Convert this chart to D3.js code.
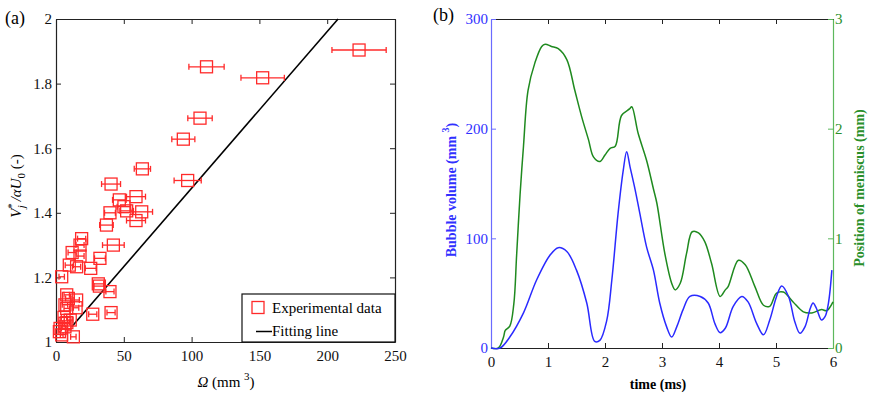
<!DOCTYPE html>
<html>
<head>
<meta charset="utf-8">
<script src="https://cdn.jsdelivr.net/npm/d3@7"></script>
<style>
  body { margin: 0; background: #fff; }
</style>
</head>
<body>
<svg id="fig" width="872" height="396"></svg>
<script>
// ---- panel (a) data : Omega (mm^3), V*/aU0, error on Omega ----
var omega = [223.5, 111, 152.4, 106.2, 93.9, 63.7, 97.1, 40.6, 46.7, 59, 50.1, 52.1, 39.8, 63.2, 59, 37.2,
             42.3, 18.9, 17.7, 11.9, 32.4, 17.7, 9.8, 15.2, 25.6, 4.2, 31.2, 32, 39.8, 9.1, 15.2, 7.9,
             14.8, 27.1, 40.6, 6.6, 3, 2.5, 6.6, 12.8, 4.2, 7.9, 6.6, 5.9, 10.5, 8];
var vstar = [1.904, 1.852, 1.818, 1.693, 1.628, 1.536, 1.500, 1.489, 1.440, 1.450, 1.419, 1.406, 1.400, 1.403, 1.376, 1.362,
             1.300, 1.320, 1.300, 1.277, 1.259, 1.266, 1.238, 1.233, 1.228, 1.202, 1.180, 1.173, 1.156, 1.135, 1.130, 1.104,
             1.106, 1.086, 1.091, 1.058, 1.042, 1.032, 1.047, 1.016, 1.022, 1.146, 1.115, 1.076, 1.068, 1.060];
var omegaErr = [20, 13, 16, 9, 8.5, 6, 10, 7, 5, 7, 5, 5, 4, 8, 7, 5,
                8, 3, 3, 3, 4, 3, 3, 3, 4, 2, 4, 4, 3, 2, 2, 2,
                2, 3, 3, 2, 1, 1, 2, 2, 1, 2, 2, 2, 2, 2];
var fitX = [11.6, 208];
var fitY = [1.047, 2.0];
var xTicksA = [0, 50, 100, 150, 200, 250];
var yTicksA = [1, 1.2, 1.4, 1.6, 1.8, 2];

// ---- panel (b) data : time (ms), bubble volume (mm^3), meniscus position (mm) ----
var tBlue = [0, 0.16, 0.33, 0.57, 0.80, 1.04, 1.18, 1.33, 1.50, 1.68, 1.82, 1.91, 2.03, 2.12, 2.23, 2.32, 2.38, 2.44,
             2.53, 2.61, 2.73, 2.85, 2.96, 3.08, 3.17, 3.26, 3.37, 3.49, 3.67, 3.81, 3.93, 4.02, 4.11, 4.25, 4.40,
             4.51, 4.66, 4.78, 4.89, 5.01, 5.10, 5.22, 5.33, 5.42, 5.51, 5.60, 5.65, 5.71, 5.80, 5.86, 5.92, 5.98];
var volume = [0, 0, 10, 32, 62, 85, 91.5, 88, 71, 41, 6, 7, 25, 62, 123, 162, 179, 165,
              144, 123, 92, 71, 41, 19.5, 10, 19.5, 35, 47, 47, 41, 22, 14, 18, 38, 47,
              42, 22.5, 12, 25.5, 47, 56.5, 47, 24, 13.4, 19.5, 36, 41, 36, 25.5, 28.5, 41, 71];
var tGreen = [0, 0.13, 0.22, 0.25, 0.33, 0.40, 0.45, 0.51, 0.57, 0.65, 0.77, 0.89, 0.95, 1.06, 1.18, 1.33, 1.47,
              1.59, 1.71, 1.80, 1.91, 2.0, 2.09, 2.18, 2.29, 2.43, 2.47, 2.58, 2.73, 2.85, 2.91, 3.05, 3.17, 3.23,
              3.32, 3.43, 3.53, 3.64, 3.75, 3.87, 4.02, 4.11, 4.16, 4.34, 4.46, 4.63, 4.78, 4.89, 5.01, 5.13, 5.30,
              5.48, 5.63, 5.80, 5.89, 6.0];
var meniscus = [0, 0, 0.10, 0.16, 0.20, 0.40, 0.85, 1.40, 1.84, 2.35, 2.60, 2.75, 2.77, 2.75, 2.73, 2.63, 2.35,
                2.11, 1.90, 1.74, 1.70, 1.76, 1.82, 1.84, 2.12, 2.18, 2.20, 1.96, 1.71, 1.45, 1.32, 0.86, 0.59, 0.53,
                0.59, 0.86, 1.06, 1.05, 0.97, 0.77, 0.47, 0.53, 0.56, 0.80, 0.76, 0.56, 0.39, 0.38, 0.50, 0.51, 0.42,
                0.33, 0.32, 0.35, 0.34, 0.42];
var xTicksB = [0, 1, 2, 3, 4, 5, 6];
var yTicksB = [0, 100, 200, 300];
var yTicksB2 = [0, 1, 2, 3];

var FONT = "Liberation Serif, Tinos, Times New Roman, DejaVu Serif, serif";

var svg = d3.select("#fig").attr("font-family", FONT);
svg.append("rect").attr("width", 872).attr("height", 396).attr("fill", "#fff");

/* inward ticks, MATLAB style */
function styleAxis(g, col, textCol) {
  g.attr("font-family", FONT).attr("font-size", 15);
  g.selectAll("path.domain").attr("stroke", col).attr("stroke-width", 1.2);
  g.selectAll(".tick line").attr("stroke", col);
  g.selectAll(".tick text").attr("fill", textCol);
}

// ================= panel (a) =================
var xA = d3.scaleLinear().domain([0, 250]).range([56, 395]);
var yA = d3.scaleLinear().domain([1, 2]).range([342, 19]);

var a = svg.append("g");
a.append("g").attr("transform", "translate(0,342)")
  .call(d3.axisBottom(xA).tickValues(xTicksA).tickSizeInner(-5).tickSizeOuter(0).tickPadding(8).tickFormat(d3.format("d")))
  .call(styleAxis, "#222", "#111");
a.append("g").attr("transform", "translate(0,19)")
  .call(d3.axisTop(xA).tickValues(xTicksA).tickSizeInner(-5).tickSizeOuter(0).tickFormat(""))
  .call(styleAxis, "#222", "#111");
a.append("g").attr("transform", "translate(56,0)")
  .call(d3.axisLeft(yA).tickValues(yTicksA).tickSizeInner(-5).tickSizeOuter(0).tickPadding(4).tickFormat(function(d){ return String(+d.toFixed(1)); }))
  .call(styleAxis, "#222", "#111");
a.append("g").attr("transform", "translate(395,0)")
  .call(d3.axisRight(yA).tickValues(yTicksA).tickSizeInner(-5).tickSizeOuter(0).tickFormat(""))
  .call(styleAxis, "#222", "#111");

// fitting line
a.append("line")
  .attr("x1", xA(fitX[0])).attr("y1", yA(fitY[0]))
  .attr("x2", xA(fitX[1])).attr("y2", yA(fitY[1]))
  .attr("stroke", "#000").attr("stroke-width", 1.6);

var pts = omega.map(function(o, i){ return {x: o, y: vstar[i], e: omegaErr[i]}; });
var red = "#ff2a2a";
var eb = a.append("g").attr("stroke", red).attr("stroke-width", 1.3).attr("fill", "none");
eb.selectAll("line.eb").data(pts).enter().append("line")
  .attr("x1", function(d){ return xA(d.x - d.e); }).attr("x2", function(d){ return xA(d.x + d.e); })
  .attr("y1", function(d){ return yA(d.y); }).attr("y2", function(d){ return yA(d.y); });
eb.selectAll("line.cl").data(pts).enter().append("line")
  .attr("x1", function(d){ return xA(d.x - d.e); }).attr("x2", function(d){ return xA(d.x - d.e); })
  .attr("y1", function(d){ return yA(d.y) - 3; }).attr("y2", function(d){ return yA(d.y) + 3; });
eb.selectAll("line.cr").data(pts).enter().append("line")
  .attr("x1", function(d){ return xA(d.x + d.e); }).attr("x2", function(d){ return xA(d.x + d.e); })
  .attr("y1", function(d){ return yA(d.y) - 3; }).attr("y2", function(d){ return yA(d.y) + 3; });
eb.selectAll("rect").data(pts).enter().append("rect")
  .attr("x", function(d){ return xA(d.x) - 6; }).attr("y", function(d){ return yA(d.y) - 6; })
  .attr("width", 12).attr("height", 12);

// legend
var lg = a.append("g").attr("font-size", 15);
lg.append("rect").attr("x", 242).attr("y", 294).attr("width", 153).attr("height", 48)
  .attr("fill", "#fff").attr("stroke", "#111").attr("stroke-width", 1.2);
lg.append("rect").attr("x", 252).attr("y", 301.5).attr("width", 12).attr("height", 12)
  .attr("fill", "none").attr("stroke", red).attr("stroke-width", 1.3);
lg.append("text").attr("x", 272).attr("y", 313).text("Experimental data");
lg.append("line").attr("x1", 256).attr("x2", 272).attr("y1", 331.5).attr("y2", 331.5)
  .attr("stroke", "#000").attr("stroke-width", 1.5);
lg.append("text").attr("x", 272).attr("y", 336).text("Fitting line");

// labels
svg.append("text").attr("x", 5).attr("y", 24).attr("font-size", 18).text("(a)");
var xl = svg.append("text").attr("x", 226).attr("y", 387).attr("text-anchor", "middle").attr("font-size", 15);
xl.append("tspan").attr("font-style", "italic").text("Ω");
xl.append("tspan").text(" (mm ");
xl.append("tspan").attr("dy", -7).attr("font-size", 11).text("3");
xl.append("tspan").attr("dy", 7).text(")");

var yl = svg.append("text").attr("transform", "translate(21,186) rotate(-90)")
  .attr("text-anchor", "middle").attr("font-size", 15);
yl.append("tspan").attr("font-style", "italic").text("V");
yl.append("tspan").attr("dy", -6).attr("font-size", 11).text("*");
yl.append("tspan").attr("dx", -5).attr("dy", 10).attr("font-size", 11).attr("font-style", "italic").text("j");
yl.append("tspan").attr("dy", -4).attr("font-style", "italic").text(" /αU");
yl.append("tspan").attr("dy", 4).attr("font-size", 11).text("0");
yl.append("tspan").attr("dy", -4).text(" (-)");

// ================= panel (b) =================
var xB = d3.scaleLinear().domain([0, 6]).range([491, 833]);
var yB = d3.scaleLinear().domain([0, 300]).range([348, 19]);
var yB2 = d3.scaleLinear().domain([0, 3]).range([348, 19]);
var blueAx = "#6b6bff", blueTx = "#3030ff", greenAx = "#5cb85c", greenTx = "#2a8f2a";

var b = svg.append("g");
b.append("g").attr("transform", "translate(0,348)")
  .call(d3.axisBottom(xB).tickValues(xTicksB).tickSizeInner(-5).tickSizeOuter(0).tickPadding(8).tickFormat(d3.format("d")))
  .call(styleAxis, "#222", "#111");
b.append("g").attr("transform", "translate(0,19)")
  .call(d3.axisTop(xB).tickValues(xTicksB).tickSizeInner(-5).tickSizeOuter(0).tickFormat(""))
  .call(styleAxis, "#222", "#111");
b.append("g").attr("transform", "translate(491,0)")
  .call(d3.axisLeft(yB).tickValues(yTicksB).tickSizeInner(-5).tickSizeOuter(0).tickPadding(3).tickFormat(d3.format("d")))
  .call(styleAxis, blueAx, blueTx);
b.append("g").attr("transform", "translate(833,0)")
  .call(d3.axisRight(yB2).tickValues(yTicksB2).tickSizeInner(-5).tickSizeOuter(0).tickPadding(2).tickFormat(d3.format("d")))
  .call(styleAxis, greenAx, greenTx);

var blueData = tBlue.map(function(t, i){ return [t, volume[i]]; });
var greenData = tGreen.map(function(t, i){ return [t, meniscus[i]]; });

b.append("path").datum(greenData)
  .attr("d", d3.line().x(function(d){ return xB(d[0]); }).y(function(d){ return yB2(d[1]); }).curve(d3.curveCatmullRom))
  .attr("fill", "none").attr("stroke", "#1f8a1f").attr("stroke-width", 1.5);
b.append("path").datum(blueData)
  .attr("d", d3.line().x(function(d){ return xB(d[0]); }).y(function(d){ return yB(d[1]); }).curve(d3.curveCatmullRom))
  .attr("fill", "none").attr("stroke", "#2a2aff").attr("stroke-width", 1.5);

svg.append("text").attr("x", 433).attr("y", 21).attr("font-size", 18).text("(b)");
svg.append("text").attr("x", 658).attr("y", 389).attr("text-anchor", "middle")
  .attr("font-size", 14).attr("font-weight", "bold").text("time (ms)");

var ll = svg.append("text").attr("transform", "translate(456,190) rotate(-90)")
  .attr("text-anchor", "middle").attr("fill", blueTx).attr("font-size", 14).attr("font-weight", "bold");
ll.append("tspan").text("Bubble volume (mm ");
ll.append("tspan").attr("dy", -7).attr("font-size", 10).text("3");
ll.append("tspan").attr("dy", 7).text(")");

svg.append("text").attr("transform", "translate(864,188) rotate(-90)")
  .attr("text-anchor", "middle").attr("fill", greenTx).attr("font-size", 14).attr("font-weight", "bold")
  .text("Position of meniscus (mm)");
</script>
</body>
</html>
